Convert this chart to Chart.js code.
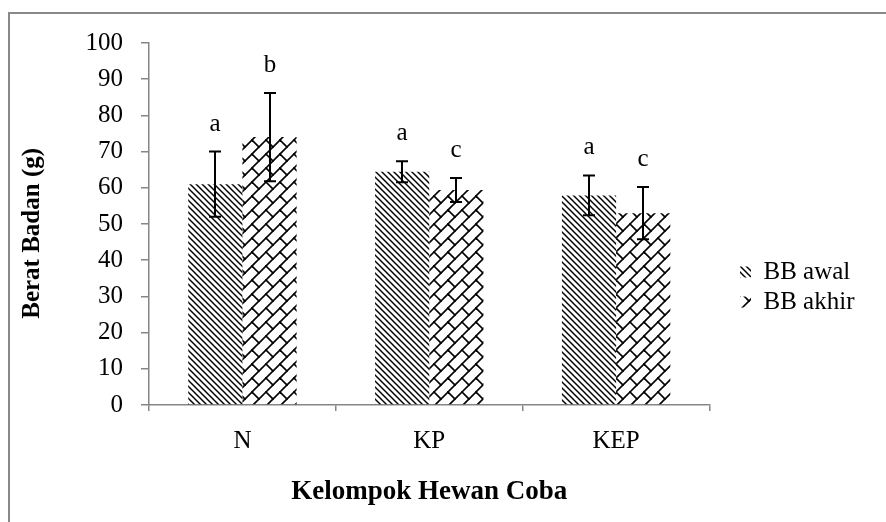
<!DOCTYPE html>
<html><head><meta charset="utf-8">
<script src="https://cdn.jsdelivr.net/npm/chart.js@4.4.0/dist/chart.umd.min.js"></script>
<style>html,body{margin:0;padding:0;background:#fff}#wrap{width:886px;height:522px;position:relative}canvas{display:block}</style>
</head><body><div id="wrap"><canvas id="c" width="886" height="522"></canvas></div>
<script>
const categories = ['N', 'KP', 'KEP'];
const seriesNames = ['BB awal', 'BB akhir'];
const bbAwal = [61, 64.4, 57.9];
const bbAkhir = [74, 59.4, 53];
const errAwal = [9, 2.9, 5.5];
const errAkhir = [12.2, 3.3, 7.2];
const lettersAwal = ['a', 'a', 'a'];
const lettersAkhir = ['b', 'c', 'c'];
const yMin = 0, yMax = 100, yStep = 10;
const xTitle = 'Kelompok Hewan Coba';
const yTitle = 'Berat Badan (g)';

const FONT = "'Liberation Serif', 'Times New Roman', serif";
const AXIS = '#868686';
Chart.defaults.font.family = FONT;
Chart.defaults.color = '#000';

const canvas = document.getElementById('c');
const ctx0 = canvas.getContext('2d');

function patternAwal() {
  const T = 6;
  const c = document.createElement('canvas'); c.width = T; c.height = T;
  const g = c.getContext('2d');
  g.strokeStyle = '#000'; g.lineWidth = 1.5;
  for (const o of [-T, 0, T]) { g.beginPath(); g.moveTo(o - 2, -2); g.lineTo(o + T + 2, T + 2); g.stroke(); }
  return ctx0.createPattern(c, 'repeat');
}
function patternAkhir() {
  const S = 14, T = 2 * S;
  const c = document.createElement('canvas'); c.width = T; c.height = T;
  const g = c.getContext('2d');
  g.strokeStyle = '#000'; g.lineWidth = 1.6; g.lineCap = 'square';
  for (let k = -1; k <= 5; k++) {
    const s = k * S;
    g.beginPath(); g.moveTo(s + 4, -4); g.lineTo(-4, s + 4); g.stroke();
  }
  for (let m = -3; m <= 5; m++) {
    const off = ((m % 2) + 2) % 2 * S;
    for (let n = -3; n <= 3; n++) {
      const d = off + n * T;
      const s1 = m * S, s2 = (m + 1) * S;
      g.beginPath();
      g.moveTo((s1 + d) / 2, (s1 - d) / 2);
      g.lineTo((s2 + d) / 2, (s2 - d) / 2);
      g.stroke();
    }
  }
  return ctx0.createPattern(c, 'repeat');
}

const borderPlugin = {
  id: 'outerBorder',
  beforeDraw(chart) {
    const ctx = chart.ctx;
    ctx.save();
    ctx.fillStyle = '#fff'; ctx.fillRect(0, 0, chart.width, chart.height);
    ctx.strokeStyle = '#898989'; ctx.lineWidth = 2;
    ctx.strokeRect(9, 13, chart.width + 10, chart.height + 10);
    ctx.restore();
  }
};

const legendShift = {
  id: 'legendShift',
  afterLayout(chart) {
    const lg = chart.legend;
    if (lg) {
      lg.left = 735; lg.right = 886; lg.width = 151;
      lg.top += 4.5; lg.bottom += 4.5;
    }
  }
};

const errPlugin = {
  id: 'errbars',
  afterDatasetsDraw(chart) {
    const ctx = chart.ctx, ys = chart.scales.y;
    const errs = [errAwal, errAkhir], letters = [lettersAwal, lettersAkhir];
    chart.data.datasets.forEach((ds, i) => {
      chart.getDatasetMeta(i).data.forEach((bar, j) => {
        const v = ds.data[j], e = errs[i][j];
        const yt = ys.getPixelForValue(v + e), yb = ys.getPixelForValue(v - e);
        const x = Math.round(bar.x);
        ctx.save();
        ctx.strokeStyle = '#000'; ctx.lineWidth = 2;
        ctx.beginPath();
        ctx.moveTo(x, yt); ctx.lineTo(x, yb);
        ctx.moveTo(x - 6, yt); ctx.lineTo(x + 6, yt);
        ctx.moveTo(x - 6, yb); ctx.lineTo(x + 6, yb);
        ctx.stroke();
        ctx.font = '25px ' + FONT;
        ctx.textAlign = 'center'; ctx.textBaseline = 'alphabetic'; ctx.fillStyle = '#000';
        ctx.fillText(letters[i][j], x, yt - 21);
        ctx.restore();
      });
    });
  }
};

new Chart(canvas, {
  type: 'bar',
  data: {
    labels: categories,
    datasets: [
      { label: seriesNames[0], data: bbAwal, backgroundColor: patternAwal(), borderWidth: 0 },
      { label: seriesNames[1], data: bbAkhir, backgroundColor: patternAkhir(), borderWidth: 0 }
    ]
  },
  options: {
    responsive: false,
    animation: false,
    devicePixelRatio: 1,
    datasets: { bar: { categoryPercentage: 0.58, barPercentage: 1.0 } },
    layout: { padding: { top: 43, left: 0, bottom: 0, right: 47 } },
    plugins: {
      legend: {
        position: 'right', align: 'center',
        labels: { boxWidth: 11, boxHeight: 11, padding: 5, font: { size: 25 }, color: '#000' }
      },
      tooltip: { enabled: false }
    },
    scales: {
      x: {
        grid: { display: true, drawOnChartArea: false, drawTicks: true, tickLength: 6, color: AXIS, lineWidth: 1.5, offset: true },
        border: { display: true, color: AXIS, width: 1.5 },
        ticks: { font: { size: 25 }, color: '#000', padding: 15 },
        title: { display: true, text: xTitle, font: { size: 27, weight: 'bold' }, color: '#000', padding: { top: 0, bottom: 14 } },
        afterFit(s) { s.height = 117; }
      },
      y: {
        min: yMin, max: yMax,
        ticks: { stepSize: yStep, font: { size: 25 }, color: '#000', padding: 18 },
        grid: { display: true, drawOnChartArea: false, drawTicks: true, tickLength: 8, color: AXIS, lineWidth: 1.5 },
        border: { display: true, color: AXIS, width: 1.5 },
        title: { display: true, text: yTitle + '   ', font: { size: 25, weight: 'bold' }, color: '#000', padding: { top: 18, bottom: 0 } },
        afterFit(s) { s.width = 149; }
      }
    }
  },
  plugins: [borderPlugin, legendShift, errPlugin]
});
</script>
</body></html>
